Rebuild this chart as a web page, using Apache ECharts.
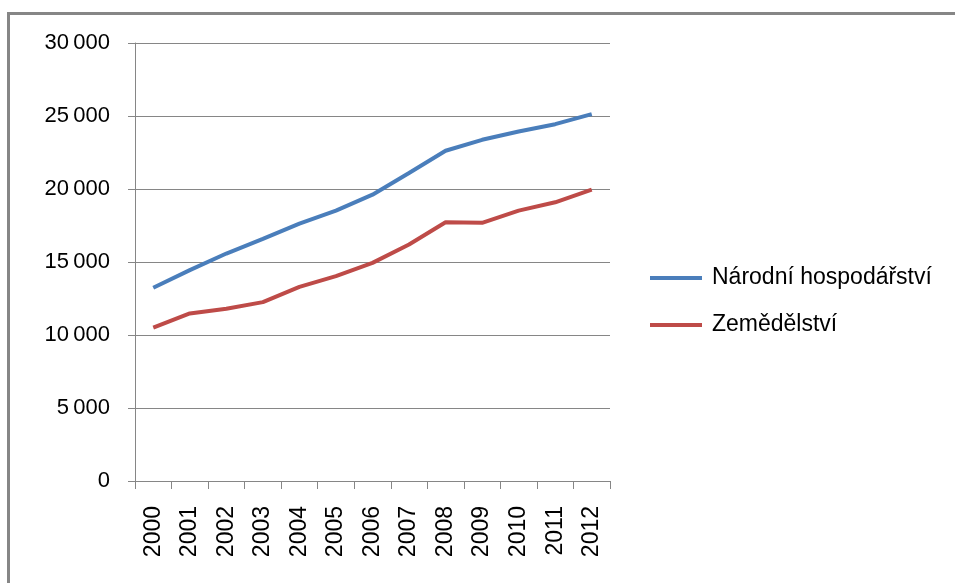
<!DOCTYPE html>
<html>
<head>
<meta charset="utf-8">
<script src="https://cdn.jsdelivr.net/npm/echarts@6/dist/echarts.min.js"></script>
<style>
    html, body { margin: 0; padding: 0; background: #fff; }
    #frame {
        position: absolute; left: 7px; top: 12px; right: 0; bottom: 0;
        border-top: 3px solid #868686; border-left: 3px solid #868686;
    }
    #chart { position: absolute; left: 0; top: 0; width: 955px; height: 583px; }
</style>
</head>
<body>
<div id="frame"></div>
<div id="chart"></div>
<script>
    const years = ["2000", "2001", "2002", "2003", "2004", "2005", "2006",
        "2007", "2008", "2009", "2010", "2011", "2012"];
    const narodni = [13240, 14440, 15580, 16580, 17630, 18520, 19610,
        21100, 22620, 23370, 23940, 24440, 25130];
    const zemedelstvi = [10500, 11480, 11800, 12250, 13300, 14030, 14940,
        16200, 17720, 17680, 18520, 19090, 19950];

    const gray = "#868686";
    const chart = echarts.init(document.getElementById("chart"));

    const option = {
        animation: false,
        grid: { left: 135, right: 345, top: 43, bottom: 102 },
        legend: {
            orient: "vertical",
            left: 650,
            top: 265,
            padding: 0,
            itemWidth: 52,
            itemHeight: 4,
            itemGap: 21,
            icon: "rect",
            textStyle: {
                fontFamily: "Liberation Sans",
                fontSize: 23,
                color: "#000",
                lineHeight: 26,
                padding: [0, 0, 0, 5]
            },
            data: ["Národní hospodářství", "Zemědělství"]
        },
        xAxis: {
            type: "category",
            data: years,
            boundaryGap: true,
            axisLine: { lineStyle: { color: gray, width: 1 } },
            axisTick: { show: true, length: 8, lineStyle: { color: gray } },
            axisLabel: {
                rotate: 90,
                margin: 25,
                fontFamily: "Liberation Sans",
                fontSize: 23,
                color: "#000"
            }
        },
        yAxis: {
            type: "value",
            min: 0,
            max: 30000,
            interval: 5000,
            axisLine: { show: true, lineStyle: { color: gray, width: 1 } },
            axisTick: { show: true, length: 7, lineStyle: { color: gray } },
            splitLine: { lineStyle: { color: gray, width: 1 } },
            axisLabel: {
                margin: 25,
                fontFamily: "Liberation Sans",
                fontSize: 22,
                color: "#000",
                formatter: function (v) {
                    return v >= 1000 ? Math.floor(v / 1000) + "\u2009" + "000" : String(v);
                }
            }
        },
        series: [
            {
                name: "Národní hospodářství",
                type: "line",
                data: narodni,
                symbol: "none",
                lineStyle: { color: "#4A7EBB", width: 4 },
                itemStyle: { color: "#4A7EBB" }
            },
            {
                name: "Zemědělství",
                type: "line",
                data: zemedelstvi,
                symbol: "none",
                lineStyle: { color: "#BE4B48", width: 4 },
                itemStyle: { color: "#BE4B48" }
            }
        ]
    };

    chart.setOption(option);
</script>
</body>
</html>
